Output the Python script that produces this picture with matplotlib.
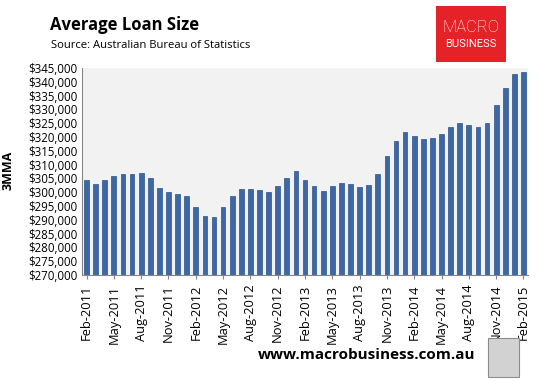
import matplotlib
matplotlib.use("Agg")
import matplotlib.pyplot as plt
from matplotlib.patches import Rectangle
from matplotlib.ticker import FuncFormatter, MultipleLocator

# Average loan size, 3-month moving average, Feb-2011 .. Feb-2015
months = [
    "Feb-2011", "Mar-2011", "Apr-2011", "May-2011", "Jun-2011", "Jul-2011",
    "Aug-2011", "Sep-2011", "Oct-2011", "Nov-2011", "Dec-2011", "Jan-2012",
    "Feb-2012", "Mar-2012", "Apr-2012", "May-2012", "Jun-2012", "Jul-2012",
    "Aug-2012", "Sep-2012", "Oct-2012", "Nov-2012", "Dec-2012", "Jan-2013",
    "Feb-2013", "Mar-2013", "Apr-2013", "May-2013", "Jun-2013", "Jul-2013",
    "Aug-2013", "Sep-2013", "Oct-2013", "Nov-2013", "Dec-2013", "Jan-2014",
    "Feb-2014", "Mar-2014", "Apr-2014", "May-2014", "Jun-2014", "Jul-2014",
    "Aug-2014", "Sep-2014", "Oct-2014", "Nov-2014", "Dec-2014", "Jan-2015",
    "Feb-2015",
]
loan_size = [
    304400, 303000, 304400, 305900, 306700, 306700, 306900, 305100, 301500,
    300200, 299400, 298700, 294800, 291500, 291100, 294700, 298700, 301200,
    301200, 300800, 300100, 302300, 305100, 307700, 304400, 302300, 300500,
    302300, 303300, 303000, 301900, 302600, 306600, 313100, 318500, 321700,
    320300, 319200, 319600, 321000, 323500, 325000, 324300, 323500, 325000,
    331500, 337600, 343000, 343400,
]

W, H = 548, 384
fig = plt.figure(figsize=(W / 100, H / 100), dpi=100)
fig.patch.set_facecolor("white")

ax = fig.add_axes([82 / W, 1 - 275 / H, 446 / W, 207 / H])
ax.set_facecolor("#F2F2F2")
x = list(range(len(months)))
ax.bar(x, loan_size, width=0.52, color="#3C68A6", edgecolor="#2E5388",
       linewidth=0.5)
ax.set_xlim(-0.5, len(months) - 0.5)
ax.set_ylim(270000, 345000)
ax.yaxis.set_major_locator(MultipleLocator(5000))
ax.yaxis.set_major_formatter(FuncFormatter(lambda v, p: f"${v:,.0f}"))

ax.set_xticks(x[::3])
ax.set_xticklabels(months[::3], rotation=90, fontsize=9.3, family="Open Sans")
ax.tick_params(axis="x", length=3, color="#868686", pad=4)
ax.tick_params(axis="y", length=0, labelsize=8.3, pad=3)
for lab in ax.get_yticklabels():
    lab.set_family("Open Sans")

for side in ("top", "right"):
    ax.spines[side].set_visible(False)
for side in ("left", "bottom"):
    ax.spines[side].set_color("#868686")
    ax.spines[side].set_linewidth(0.8)

fig.text(8 / W, 1 - 170 / H, "3MMA", rotation=90, fontsize=9, fontweight="bold",
         family="Open Sans", ha="center", va="center")

fig.text(50 / W, 1 - 25 / H, "Average Loan Size", fontsize=12, fontweight="bold",
         family="Open Sans", ha="left", va="center")
fig.text(51 / W, 1 - 46 / H, "Source: Australian Bureau of Statistics", fontsize=8.1,
         family="Open Sans", ha="left", va="center")

# logo box
fig.patches.append(Rectangle((436 / W, 1 - 62 / H), 70 / W, 56 / H,
                             transform=fig.transFigure, facecolor="#E42228",
                             edgecolor="none"))
fig.text(471 / W, 1 - 27 / H, "MACRO", fontsize=12, color="white",
         family="Roboto", fontweight="light", ha="center", va="center")
fig.text(471 / W, 1 - 44 / H, "BUSINESS", fontsize=8, color="white",
         family="Roboto", ha="center", va="center")

fig.text(258 / W, 1 - 355 / H, "www.macrobusiness.com.au", fontsize=11,
         fontweight="bold", family="Open Sans", ha="left", va="center")
fig.patches.append(Rectangle((488 / W, 1 - 377 / H), 31 / W, 39 / H,
                             transform=fig.transFigure, facecolor="#D2D2D2",
                             edgecolor="#8C8C8C", linewidth=0.8))

fig.savefig("out.png", dpi=100)
